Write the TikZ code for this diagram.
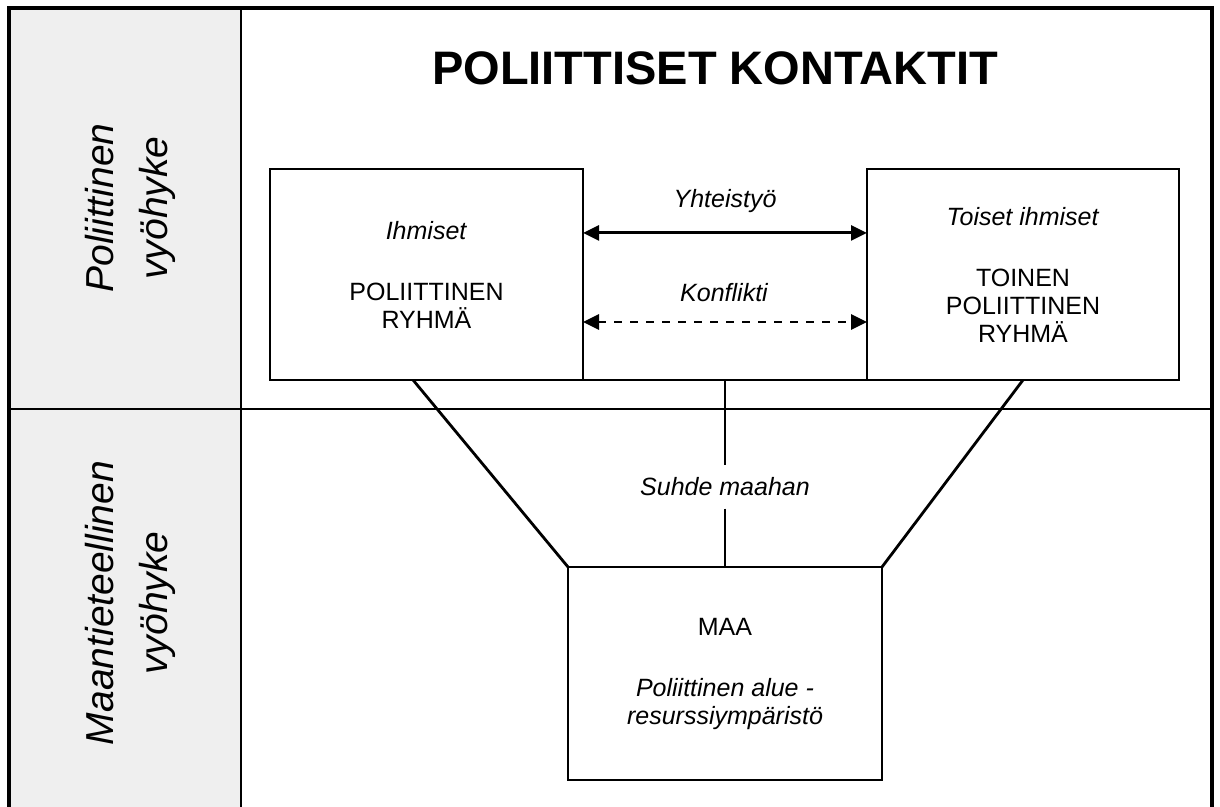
\documentclass[tikz,border=0pt]{standalone}
\usepackage{fontspec}
\setmainfont{Liberation Sans}
\usetikzlibrary{arrows.meta,calc}
\definecolor{sidegrey}{HTML}{EFEFEF}
\begin{document}
\begin{tikzpicture}[x=0.5pt,y=-0.5pt,
  box/.style={draw,line width=1.45pt,fill=white,align=center,font=\fontsize{12.5}{14}\selectfont,inner sep=0pt,outer sep=0pt},
  lbl/.style={font=\fontsize{12.5}{14}\selectfont\itshape,inner sep=0pt},
  conn/.style={line width=1.4pt},
  frame/.style={line width=1.7pt},
  arr/.style={line width=1.45pt,{Triangle[length=8pt,width=7.5pt]}-{Triangle[length=8pt,width=7.5pt]}},
  side/.style={rotate=90,align=center,font=\fontsize{19.5}{27}\selectfont\itshape},
  titlestyle/.style={font=\fontsize{23.5}{28}\selectfont\bfseries,inner sep=0pt}]
\useasboundingbox (0,0) rectangle (1220,807);
\fill[sidegrey] (9,8) rectangle (241,815);
\draw[frame] (9,815) -- (9,8) -- (1212,8) -- (1212,815);
\draw[conn] (241,8) -- (241,815);
\draw[conn] (9,409) -- (1212,409);

\node[titlestyle] (title) at (715,68) {POLIITTISET KONTAKTIT};

\node[side] (pz) at (130,208) {Poliittinen\\vyöhyke};
\node[side] (mz) at (130,603) {Maantieteellinen\\vyöhyke};

\node[box,minimum width=156.5pt,minimum height=105.5pt] (L) at (426.5,274.5)
  {\textit{Ihmiset}\\[16.5pt]POLIITTINEN\\RYHMÄ};
\node[box,minimum width=156pt,minimum height=105.5pt] (R) at (1023,274.5)
  {\textit{Toiset ihmiset}\\[16.5pt]TOINEN\\POLIITTINEN\\RYHMÄ};
\node[box,minimum width=157pt,minimum height=106.5pt] (M) at (725,673.5)
  {MAA\\[16.5pt]\textit{Poliittinen alue -}\\\textit{resurssiympäristö}};

\draw[arr] ($(L.north east)!0.303!(L.south east)$) -- ($(R.north west)!0.303!(R.south west)$);
\draw[arr,dash pattern=on 4pt off 4pt] ($(L.north east)!0.725!(L.south east)$) -- ($(R.north west)!0.725!(R.south west)$);
\node[lbl] (yht) at (725,201) {Yhteistyö};
\node[lbl] (konf) at (724,293) {Konflikti};

\draw[conn] (L.south east) -- (R.south west);
\coordinate (mid) at ($(L.south east)!0.5!(R.south west)$);
\node[lbl,inner ysep=6pt] (suhde) at (725,487) {Suhde maahan};
\draw[conn] (mid) -- (suhde) -- (M.north);
\draw[conn] ($(L.south west)!0.457!(L.south east)$) -- (M.north west);
\draw[conn] ($(R.south west)!0.5!(R.south east)$) -- (M.north east);
\end{tikzpicture}
\end{document}
